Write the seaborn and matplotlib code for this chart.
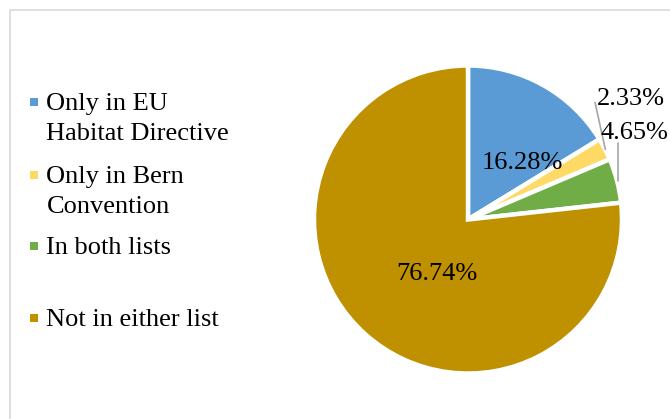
import matplotlib
matplotlib.use("Agg")
import matplotlib.pyplot as plt
import seaborn as sns
import numpy as np
from matplotlib.patches import Rectangle
from matplotlib.lines import Line2D

sns.set_theme(style="white")
plt.rcParams["font.family"] = ["Liberation Serif", "DejaVu Serif"]

# Species counts by legal protection status
categories = ["Only in EU\nHabitat Directive", "Only in Bern\nConvention",
              "In both lists", "Not in either list"]
counts = [7, 1, 2, 33]
colors = ["#5B9BD5", "#FFD966", "#70AD47", "#BF9000"]

W, H = 670, 419
fig = plt.figure(figsize=(W / 100, H / 100), dpi=100)
fig.patch.set_facecolor("white")

# chart-area frame
fig.add_artist(Rectangle((9.5 / W, -0.1), 1.2, (H - 10.5) / H + 0.1,
                         transform=fig.transFigure, fill=False,
                         edgecolor="#D9D9D9", linewidth=1.2))

# pie axes, placed in pixel units
cx, cy, r = 468, 219.5, 154
ax = fig.add_axes([(cx - r) / W, (H - cy - r) / H, 2 * r / W, 2 * r / H])
wedges, _ = ax.pie(counts, colors=colors, startangle=90, counterclock=False,
                   radius=1.0,
                   wedgeprops=dict(edgecolor="white", linewidth=3.2))
ax.set_xlim(-1, 1)
ax.set_ylim(-1, 1)
ax.set_aspect("equal")
ax.axis("off")

total = sum(counts)
pcts = [f"{100 * c / total:.2f}%" for c in counts]

# label positions in data units of the pie axes
label_pos = [(0.355, 0.365), (1.06, 0.78), (1.08, 0.56), (-0.205, -0.355)]
fs = 19
for (lx, ly), txt in zip(label_pos, pcts):
    ax.text(lx, ly, txt, ha="center", va="center", fontsize=fs,
            color="#000000", clip_on=False)

# leader lines for the two small slices
leaders = [((0.825, 0.76), (0.892, 0.455)), ((0.975, 0.50), (0.975, 0.25))]
for (x0, y0), (x1, y1) in leaders:
    ax.add_line(Line2D([x0, x1], [y0, y1], color="#A6A6A6", linewidth=1.2,
                       clip_on=False))

# legend drawn entry by entry
marker_y = [102, 175, 246, 318]
line_gap = 30
for label, col, my in zip(categories, colors, marker_y):
    fig.add_artist(Rectangle(((30) / W, (H - my - 4) / H), 8 / W, 8 / H,
                             transform=fig.transFigure, facecolor=col,
                             edgecolor="none"))
    for i, line in enumerate(label.split("\n")):
        fig.text(46.5 / W, (H - my - 2 - i * line_gap) / H, line, ha="left",
                 va="center", fontsize=fs, color="#000000")

fig.savefig("out.png", dpi=100, facecolor="white")
